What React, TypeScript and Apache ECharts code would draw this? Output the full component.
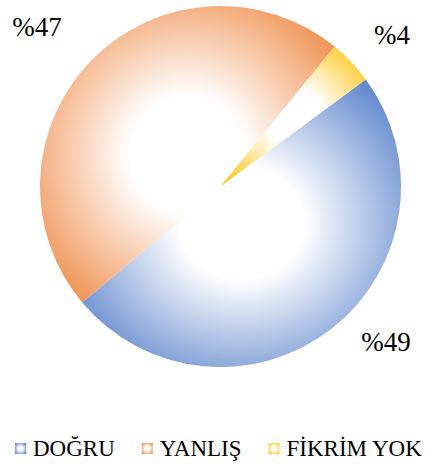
import React, { useEffect, useRef } from "react";
import * as echarts from "echarts";

const categories = ["DOĞRU", "YANLIŞ", "FİKRİM YOK"];
const values = [49, 47, 4];
const colors = ["#4472C4", "#ED7D31", "#FFC000"];
const labelPos = [
  [386, 342],
  [37, 27],
  [392, 35],
];

function grad(c: string) {
  return {
    type: "radial",
    x: 0.5,
    y: 0.5,
    r: 0.7,
    colorStops: [
      { offset: 0, color: "#FFFFFF" },
      { offset: 0.28, color: "#FFFFFF" },
      { offset: 1, color: c },
    ],
  };
}

export default function App() {
  const ref = useRef<HTMLDivElement>(null);
  useEffect(() => {
    document.body.style.margin = "0";
    const chart = echarts.init(ref.current!, null, { renderer: "svg" });
    const font = "Times New Roman, Liberation Serif, serif";
    chart.setOption({
      animation: false,
      backgroundColor: "#FFFFFF",
      legend: {
        left: 10,
        top: 432,
        itemWidth: 11,
        itemHeight: 11,
        itemGap: 27,
        icon: "rect",
        textStyle: {
          fontFamily: font,
          fontSize: 23,
          color: "#000000",
          padding: [0, 0, 0, 2],
        },
        data: categories,
      },
      series: [
        {
          type: "pie",
          center: [220.5, 186.5],
          radius: [0, 180.5],
          startAngle: 36.4,
          clockwise: true,
          label: {
            show: true,
            position: "inside",
            fontFamily: font,
            fontSize: 27,
            color: "#000000",
            formatter: (p: any) => "%" + Math.round(p.percent),
          },
          labelLine: { show: false },
          labelLayout: (p: any) => ({
            x: labelPos[p.dataIndex][0],
            y: labelPos[p.dataIndex][1],
            align: "center",
            verticalAlign: "middle",
          }),
          itemStyle: { borderWidth: 0 },
          emphasis: { disabled: true },
          data: categories.map((name, i) => ({
            name,
            value: values[i],
            itemStyle: { color: grad(colors[i]) },
          })),
        },
      ],
    });
    return () => chart.dispose();
  }, []);
  return (
    <div
      ref={ref}
      style={{ position: "absolute", left: 0, top: 0, width: 435, height: 464 }}
    />
  );
}
